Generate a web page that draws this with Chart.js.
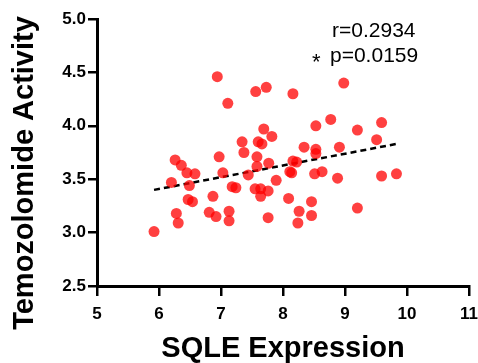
<!DOCTYPE html>
<html>
<head>
<meta charset="utf-8">
<script src="https://cdn.jsdelivr.net/npm/chart.js@4"></script>
<style>
  html, body { margin: 0; padding: 0; background: #fff; }
  #wrap { width: 478px; height: 363px; }
</style>
</head>
<body>
<div id="wrap"><canvas id="scatterChart" width="478" height="363"></canvas></div>
<script>
// SQLE expression vs temozolomide activity
const sqle = [
  6.94, 7.11, 7.56, 7.73, 8.16, 8.98, 7.69, 7.82, 7.34, 7.60, 7.66,
  7.37, 8.53, 8.77, 9.20, 9.59, 9.51, 8.34, 8.53, 8.53, 8.91, 6.26,
  6.36, 6.45, 6.58, 6.97, 7.03, 6.20, 6.49, 7.18, 7.24, 6.87, 6.47,
  6.54, 6.28, 6.31, 6.81, 6.92, 7.13, 7.13, 5.92, 7.58, 7.58, 7.77,
  7.44, 7.55, 7.64, 7.76, 7.64, 7.89, 7.76, 8.11, 8.14, 8.16, 8.22,
  8.51, 8.63, 8.88, 9.59, 9.83, 8.09, 8.46, 8.26, 8.46, 8.24, 9.20
];
const activity = [
  4.46, 4.21, 4.32, 4.36, 4.30, 4.40, 3.97, 3.90, 3.85, 3.85, 3.83,
  3.75, 4.00, 4.06, 3.96, 4.03, 3.87, 3.80, 3.78, 3.74, 3.80, 3.68,
  3.63, 3.56, 3.55, 3.71, 3.56, 3.47, 3.44, 3.43, 3.42, 3.34, 3.31,
  3.29, 3.18, 3.09, 3.19, 3.15, 3.20, 3.11, 3.01, 3.71, 3.62, 3.65,
  3.54, 3.41, 3.41, 3.39, 3.34, 3.49, 3.14, 3.57, 3.56, 3.67, 3.66,
  3.55, 3.57, 3.51, 3.53, 3.55, 3.32, 3.29, 3.20, 3.16, 3.09, 3.23
];
// ends of the dashed regression line
const fitX = [5.92, 9.83];
const fitY = [3.40, 3.83];

const xTicks = [5, 6, 7, 8, 9, 10, 11];
const yTicks = [2.5, 3.0, 3.5, 4.0, 4.5, 5.0];

const statR = "r=0.2934";
const statP = "p=0.0159";
const statStar = "*";

const FONT = "'Liberation Sans', Arial, sans-serif";

let points = sqle.map((x, i) => ({ x: x, y: activity[i] }));
let fitLine = fitX.map((x, i) => ({ x: x, y: fitY[i] }));

// y title and the stats text are drawn by hand so they sit where the original puts them
const extraText = {
  id: "extraText",
  afterDraw(chart) {
    const ctx = chart.ctx;
    ctx.save();
    ctx.fillStyle = "#000";

    ctx.font = "bold 29px " + FONT;
    ctx.textAlign = "center";
    ctx.textBaseline = "middle";
    ctx.translate(25, 173);
    ctx.rotate(-Math.PI / 2);
    ctx.fillText("Temozolomide Activity", 0, 0);
    ctx.setTransform(1, 0, 0, 1, 0, 0);

    ctx.textAlign = "left";
    ctx.textBaseline = "alphabetic";
    ctx.font = "21px " + FONT;
    ctx.fillText(statR, 332, 37);
    ctx.fillText(statP, 330, 62);
    ctx.font = "22px " + FONT;
    ctx.fillText(statStar, 312, 69);
    ctx.restore();
  },
};

const ctx = document.getElementById("scatterChart").getContext("2d");
const chart = new Chart(ctx, {
  type: "scatter",
  data: {
    datasets: [
      {
        label: "samples",
        data: points,
        backgroundColor: "rgba(255, 0, 0, 0.75)",
        borderWidth: 0,
        pointRadius: 5.5,
        pointHoverRadius: 5.5,
      },
      {
        label: "fit",
        type: "line",
        data: fitLine,
        borderColor: "#000",
        borderWidth: 2.5,
        borderDash: [6, 4],
        pointRadius: 0,
        fill: false,
      },
    ],
  },
  options: {
    responsive: false,
    animation: false,
    devicePixelRatio: 1,
    layout: {
      padding: { top: 19, right: 9, bottom: 0, left: 0 },
    },
    plugins: {
      legend: { display: false },
      tooltip: { enabled: false },
    },
    scales: {
      x: {
        type: "linear",
        min: 5,
        max: 11,
        afterBuildTicks: (scale) => {
          scale.ticks = xTicks.map((v) => ({ value: v }));
        },
        afterFit: (scale) => {
          scale.height = 77;
          scale.paddingLeft = 0;
          scale.paddingRight = 0;
        },
        ticks: {
          color: "#000",
          font: { family: FONT, size: 17, weight: "bold" },
          padding: 8,
          maxRotation: 0,
        },
        grid: {
          drawOnChartArea: false,
          drawTicks: true,
          tickLength: 10,
          color: "#000",
          lineWidth: 2.5,
        },
        border: { color: "#000", width: 3 },
        title: {
          display: true,
          text: "SQLE Expression",
          color: "#000",
          font: { family: FONT, size: 29, weight: "bold", lineHeight: 1 },
          padding: { top: -1, bottom: 0 },
        },
      },
      y: {
        type: "linear",
        min: 2.5,
        max: 5,
        afterBuildTicks: (scale) => {
          scale.ticks = yTicks.map((v) => ({ value: v }));
        },
        afterFit: (scale) => {
          scale.width = 97;
          scale.paddingTop = 0;
          scale.paddingBottom = 0;
        },
        ticks: {
          color: "#000",
          font: { family: FONT, size: 17, weight: "bold" },
          padding: 2,
          callback: (v) => Number(v).toFixed(1),
        },
        grid: {
          drawOnChartArea: false,
          drawTicks: true,
          tickLength: 9,
          color: "#000",
          lineWidth: 2.5,
        },
        border: { color: "#000", width: 3 },
      },
    },
  },
  plugins: [extraText],
});
</script>
</body>
</html>
